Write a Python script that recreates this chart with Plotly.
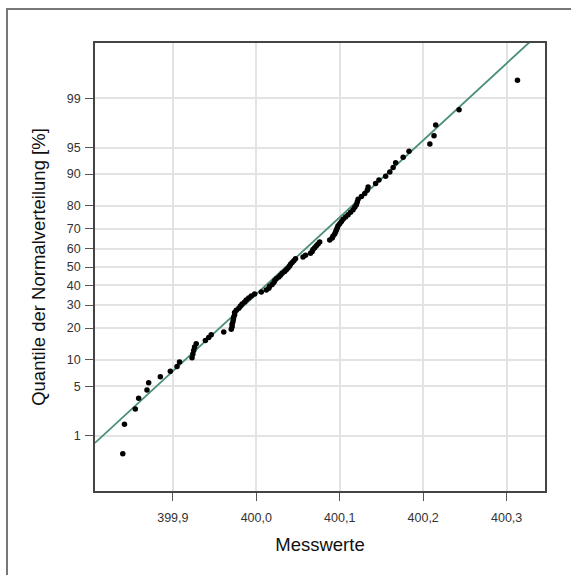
import plotly.graph_objects as go
from statistics import NormalDist

messwerte = [
    399.840, 399.842, 399.855, 399.859, 399.869, 399.871, 399.885, 399.897, 399.905, 399.908,
    399.923, 399.924, 399.925, 399.926, 399.928, 399.939, 399.943, 399.946, 399.961, 399.970,
    399.971, 399.971, 399.972, 399.9725, 399.973, 399.974, 399.974, 399.976, 399.979, 399.981,
    399.983, 399.986, 399.988, 399.991, 399.994, 399.998, 400.006, 400.012, 400.015, 400.016,
    400.019, 400.021, 400.022, 400.024, 400.027, 400.029, 400.031, 400.034, 400.036, 400.038,
    400.040, 400.041, 400.043, 400.045, 400.047, 400.056, 400.059, 400.065, 400.067, 400.068,
    400.070, 400.072, 400.074, 400.076, 400.088, 400.091, 400.092, 400.094, 400.095, 400.096,
    400.097, 400.098, 400.100, 400.102, 400.104, 400.107, 400.110, 400.113, 400.116, 400.118,
    400.120, 400.121, 400.122, 400.126, 400.130, 400.133, 400.134, 400.143, 400.147, 400.155,
    400.160, 400.164, 400.167, 400.176, 400.183, 400.208, 400.213, 400.215, 400.243, 400.313,
]

# Fitted normal line parameters
fit_mean = 400.0353
fit_sd = 0.0942

y_tick_percent = [1, 5, 10, 20, 30, 40, 50, 60, 70, 80, 90, 95, 99]
x_tick_values = [399.9, 400.0, 400.1, 400.2, 400.3]
x_tick_labels = ["399,9", "400,0", "400,1", "400,2", "400,3"]
x_range = [399.8067, 400.346]
p_range = [0.001, 0.999]

nd = NormalDist()
n = len(messwerte)
z_points = [nd.inv_cdf((i + 0.5) / n) for i in range(n)]

line_x = [x_range[0], x_range[1]]
line_z = [(v - fit_mean) / fit_sd for v in line_x]

fig = go.Figure()
fig.add_trace(go.Scatter(
    x=line_x, y=line_z, mode="lines",
    line=dict(color="#4a8f77", width=1.8),
    hoverinfo="skip", showlegend=False,
))
fig.add_trace(go.Scatter(
    x=messwerte, y=z_points, mode="markers",
    marker=dict(color="black", size=5.5),
    showlegend=False,
))

axis_font = dict(family="Liberation Sans, Arial, sans-serif", size=12.5, color="#333333")
title_font = dict(family="Liberation Sans, Arial, sans-serif", size=18.5, color="#111111")

fig.update_xaxes(
    range=x_range,
    tickvals=x_tick_values, ticktext=x_tick_labels,
    ticks="outside", ticklen=8, tickcolor="#555555", tickwidth=1,
    ticklabelstandoff=6,
    showgrid=True, gridcolor="#e3e3e3", gridwidth=1.5,
    showline=True, linecolor="#444444", linewidth=1.5, mirror=True,
    zeroline=False, tickfont=axis_font,
    title=dict(text="Messwerte", font=title_font, standoff=14),
)
fig.update_yaxes(
    range=[nd.inv_cdf(p_range[0]), nd.inv_cdf(p_range[1])],
    tickvals=[nd.inv_cdf(p / 100) for p in y_tick_percent],
    ticktext=[str(p) for p in y_tick_percent],
    ticks="outside", ticklen=8, tickcolor="#555555", tickwidth=1,
    ticklabelstandoff=2,
    showgrid=True, gridcolor="#e3e3e3", gridwidth=1.5,
    showline=True, linecolor="#444444", linewidth=1.5, mirror=True,
    zeroline=False, tickfont=axis_font,
    title=dict(text="Quantile der Normalverteilung [%]", font=title_font, standoff=16),
)

# outer frame
fig.add_shape(
    type="rect", xref="paper", yref="paper",
    x0=(7 - 95) / 450, x1=(590 - 95) / 450,
    y0=(491 - 590) / 448, y1=(491 - 9) / 448,
    line=dict(color="#777777", width=2), fillcolor="rgba(0,0,0,0)", layer="below",
)

fig.update_layout(
    width=571, height=575,
    margin=dict(l=95, r=26, t=43, b=84),
    plot_bgcolor="white", paper_bgcolor="white",
)

fig.write_html(
    "out.html",
    config={"displayModeBar": False},
    post_script="document.body.style.margin='0';document.body.style.overflow='hidden';",
)
